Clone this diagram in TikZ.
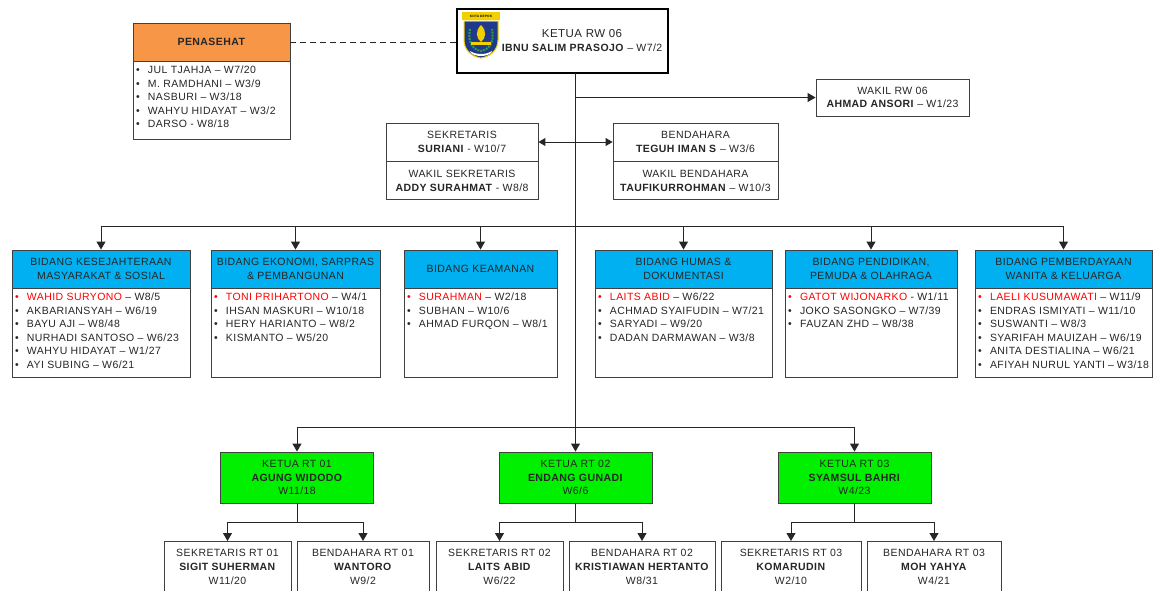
\documentclass[tikz,border=0pt]{standalone}
\usepackage{fontspec}
\setmainfont{Liberation Sans}[LetterSpace=4]
\usetikzlibrary{arrows.meta}
\definecolor{headorange}{HTML}{F79646}
\definecolor{headblue}{HTML}{00B0F0}
\definecolor{rtgreen}{HTML}{00F000}
\definecolor{namered}{HTML}{FF0000}
\definecolor{logoblue}{HTML}{1F3A8A}
\definecolor{logoyellow}{HTML}{F2D000}
\definecolor{logogreen}{HTML}{2E9E3A}
\colorlet{boxcol}{black!75}
\colorlet{linkcol}{black!85}
\tikzstyle{box}=[draw=boxcol, fill=white, inner sep=0pt, align=center,
  text=black!85, line width=0.9pt]
\tikzstyle{headbox}=[box, fill=headblue, minimum height=38pt]
\tikzstyle{listbox}=[box, anchor=north, align=left, inner xsep=3pt]
\tikzstyle{rtbox}=[box, fill=rtgreen, minimum width=153pt, minimum height=51pt]
\tikzstyle{subbox}=[box, anchor=north, minimum height=51pt]
\tikzstyle{link}=[linkcol, line width=1pt]
\tikzstyle{arr}=[link, -{Triangle[length=8pt,width=9pt]}]
\tikzstyle{dblarr}=[link, {Triangle[length=7pt,width=8pt]}-{Triangle[length=7pt,width=8pt]}]
\tikzstyle{dashlink}=[link, dash pattern=on 6pt off 4pt]
\newcommand{\members}[3]{\parbox[c][#2][t]{#1}{\vspace{4pt}#3}}
\newcommand{\itm}[1]{\makebox[12pt][l]{\textbullet}#1\par}
\newcommand{\itmred}[2]{{\color{namered}\makebox[12pt][l]{\textbullet}#1}#2\par}

\begin{document}
\begin{tikzpicture}[x=1pt,y=-1pt, font=\fontsize{10.5}{13.6}\selectfont]
  % [show background grid]
  \useasboundingbox (0,0) rectangle (1159,590);
  \clip (0,0) rectangle (1159,590);
  % Ketua RW
  \node[box, draw=black, line width=1.4pt, minimum width=211pt,
    minimum height=64pt] (ketua) at (562.5,41) {};
  \node[align=center, text=black!85, font=\fontsize{10.5}{14}\selectfont]
    (ketua-name) at (582,40.5)
    {\fontsize{11.5}{14}\selectfont KETUA RW 06\\\textbf{IBNU SALIM PRASOJO} – W7/2};
  % Logo
  \fill[logoyellow] (462,12) rectangle (500,20);
  \node[inner sep=0pt, font=\fontsize{3.2}{3.2}\selectfont\bfseries]
    (logo-text) at (481,16) {KOTA DEPOK};
  \filldraw[fill=logoblue, draw=logoyellow, line width=1pt]
    (464,21) -- (498,21) -- (498,40) .. controls (498,51) and (489,57) .. (481,58)
    .. controls (473,57) and (464,51) .. (464,40) -- cycle;
  \draw[logogreen, line width=2pt, dash pattern=on 2pt off 1pt]
    (470,29) .. controls (467,43) and (474,50) .. (481,51)
    .. controls (488,50) and (495,43) .. (492,29);
  \fill[logoyellow] (481,25) .. controls (487,31) and (486,38) .. (481,42)
    .. controls (476,38) and (475,31) .. (481,25);
  \fill[logoyellow] (471,42) rectangle (491,45);
  \fill[white] (470,51) .. controls (476,55) and (486,55) .. (492,51)
    -- (491,53) .. controls (486,57) and (476,57) .. (471,53) -- cycle;
  % Penasehat
  \node[headbox, fill=headorange, minimum width=157pt] (penasehat) at (211.5,42)
    {\textbf{PENASEHAT}};
  \node[listbox, minimum width=157pt] (penasehat-list) at (penasehat.south)
    {\members{151pt}{78pt}{\itm{JUL TJAHJA – W7/20}\itm{M. RAMDHANI – W3/9}%
      \itm{NASBURI – W3/18}\itm{WAHYU HIDAYAT – W3/2}\itm{DARSO - W8/18}}};
  % Wakil, sekretaris, bendahara
  \node[box, minimum width=153pt, minimum height=37pt] (wakil) at (892.5,97.5)
    {WAKIL RW 06\\\textbf{AHMAD ANSORI} – W1/23};
  \node[box, minimum width=152pt, minimum height=38pt] (sekretaris) at (462,142)
    {SEKRETARIS\\\textbf{SURIANI} - W10/7};
  \node[box, anchor=north, minimum width=152pt, minimum height=38pt]
    (wakil-sekretaris) at (sekretaris.south)
    {WAKIL SEKRETARIS\\\textbf{ADDY SURAHMAT} - W8/8};
  \node[box, minimum width=165pt, minimum height=38pt] (bendahara) at (695.5,142)
    {BENDAHARA\\\textbf{TEGUH IMAN S} – W3/6};
  \node[box, anchor=north, minimum width=165pt, minimum height=38pt]
    (wakil-bendahara) at (bendahara.south)
    {WAKIL BENDAHARA\\\textbf{TAUFIKURROHMAN} – W10/3};
  % Bidang
  \node[headbox, minimum width=178pt] (kesos) at (101,269)
    {BIDANG KESEJAHTERAAN\\MASYARAKAT \& SOSIAL};
  \node[listbox, minimum width=178pt] (kesos-list) at (kesos.south)
    {\members{172pt}{89pt}{\itmred{WAHID SURYONO}{ – W8/5}\itm{AKBARIANSYAH – W6/19}%
      \itm{BAYU AJI – W8/48}\itm{NURHADI SANTOSO – W6/23}%
      \itm{WAHYU HIDAYAT – W1/27}\itm{AYI SUBING – W6/21}}};
  \node[headbox, minimum width=169pt] (ekonomi) at (295.5,269)
    {BIDANG EKONOMI, SARPRAS\\\& PEMBANGUNAN};
  \node[listbox, minimum width=169pt] (ekonomi-list) at (ekonomi.south)
    {\members{163pt}{89pt}{\itmred{TONI PRIHARTONO}{ – W4/1}\itm{IHSAN MASKURI – W10/18}%
      \itm{HERY HARIANTO – W8/2}\itm{KISMANTO – W5/20}}};
  \node[headbox, minimum width=153pt] (keamanan) at (480.5,269)
    {BIDANG KEAMANAN};
  \node[listbox, minimum width=153pt] (keamanan-list) at (keamanan.south)
    {\members{147pt}{89pt}{\itmred{SURAHMAN}{ – W2/18}\itm{SUBHAN – W10/6}%
      \itm{AHMAD FURQON – W8/1}}};
  \node[headbox, minimum width=177pt] (humas) at (683.5,269)
    {BIDANG HUMAS \&\\DOKUMENTASI};
  \node[listbox, minimum width=177pt] (humas-list) at (humas.south)
    {\members{171pt}{89pt}{\itmred{LAITS ABID}{ – W6/22}\itm{ACHMAD SYAIFUDIN – W7/21}%
      \itm{SARYADI – W9/20}\itm{DADAN DARMAWAN – W3/8}}};
  \node[headbox, minimum width=172pt] (pendidikan) at (871,269)
    {BIDANG PENDIDIKAN,\\PEMUDA \& OLAHRAGA};
  \node[listbox, minimum width=172pt] (pendidikan-list) at (pendidikan.south)
    {\members{166pt}{89pt}{\itmred{GATOT WIJONARKO}{ - W1/11}\itm{JOKO SASONGKO – W7/39}%
      \itm{FAUZAN ZHD – W8/38}}};
  \node[headbox, minimum width=177pt] (wanita) at (1063.5,269)
    {BIDANG PEMBERDAYAAN\\WANITA \& KELUARGA};
  \node[listbox, minimum width=177pt] (wanita-list) at (wanita.south)
    {\members{171pt}{89pt}{\itmred{LAELI KUSUMAWATI}{ – W11/9}\itm{ENDRAS ISMIYATI – W11/10}%
      \itm{SUSWANTI – W8/3}\itm{SYARIFAH MAUIZAH – W6/19}%
      \itm{ANITA DESTIALINA – W6/21}\itm{AFIYAH NURUL YANTI – W3/18}}};
  % RT
  \node[rtbox] (rt01) at (297,477.5) {KETUA RT 01\\\textbf{AGUNG WIDODO}\\W11/18};
  \node[rtbox] (rt02) at (575.5,477.5) {KETUA RT 02\\\textbf{ENDANG GUNADI}\\W6/6};
  \node[rtbox] (rt03) at (854.5,477.5) {KETUA RT 03\\\textbf{SYAMSUL BAHRI}\\W4/23};
  \node[subbox, minimum width=127pt] (sek01) at (227.5,541)
    {SEKRETARIS RT 01\\\textbf{SIGIT SUHERMAN}\\W11/20};
  \node[subbox, minimum width=132pt] (bend01) at (363,541)
    {BENDAHARA RT 01\\\textbf{WANTORO}\\W9/2};
  \node[subbox, minimum width=127pt] (sek02) at (499.5,541)
    {SEKRETARIS RT 02\\\textbf{LAITS ABID}\\W6/22};
  \node[subbox, minimum width=146pt] (bend02) at (642,541)
    {BENDAHARA RT 02\\\textbf{KRISTIAWAN HERTANTO}\\W8/31};
  \node[subbox, minimum width=140pt] (sek03) at (791,541)
    {SEKRETARIS RT 03\\\textbf{KOMARUDIN}\\W2/10};
  \node[subbox, minimum width=134pt] (bend03) at (934,541)
    {BENDAHARA RT 03\\\textbf{MOH YAHYA}\\W4/21};
  % Connectors
  \coordinate (trunk-top) at (575,73);
  \coordinate (bidang-bar) at (575,226);
  \coordinate (rt-bar) at (575,427);
  \coordinate (sub-bar) at (575,522);
  \draw[dashlink] (penasehat.east) -- (penasehat.east -| ketua.west);
  \draw[link] (trunk-top) -- (rt-bar);
  \draw[arr] (trunk-top |- wakil.west) -- (wakil.west);
  \draw[dblarr] (sekretaris.east) -- (bendahara.west);
  \draw[link] (kesos.north |- bidang-bar) -- (wanita.north |- bidang-bar);
  \foreach \b in {kesos,ekonomi,keamanan,humas,pendidikan,wanita}
    \draw[arr] (\b.north |- bidang-bar) -- (\b.north);
  \draw[link] (rt01.north |- rt-bar) -- (rt03.north |- rt-bar);
  \foreach \r/\s/\t in {rt01/sek01/bend01,rt02/sek02/bend02,rt03/sek03/bend03} {
    \draw[arr] (\r.north |- rt-bar) -- (\r.north);
    \draw[link] (\r.south) -- (\r.south |- sub-bar);
    \draw[link] (\s.north |- sub-bar) -- (\t.north |- sub-bar);
    \draw[arr] (\s.north |- sub-bar) -- (\s.north);
    \draw[arr] (\t.north |- sub-bar) -- (\t.north);
  }
\end{tikzpicture}
\end{document}
